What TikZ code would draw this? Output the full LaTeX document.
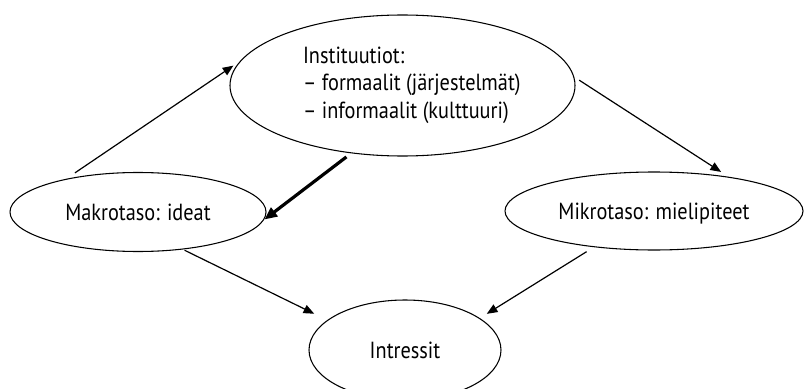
\documentclass[tikz,border=0pt]{standalone}
\usepackage{fontspec}
\setmainfont{PT Sans}[FakeStretch=0.87]
\usetikzlibrary{arrows.meta,shapes.geometric}
\tikzset{
  oval/.style={draw, ellipse, line width=0.8pt, inner sep=0pt, outer sep=0pt,
               font=\fontsize{17.5}{20.6}\selectfont},
  level/.style={oval, text depth=0pt},
  flow/.style={-{Triangle[length=8pt,width=6.5pt]}, line width=0.9pt},
  mainflow/.style={-{Triangle[length=9.5pt,width=8pt]}, line width=2.4pt},
}
\begin{document}
\begin{tikzpicture}[x=0.75pt, y=-0.75pt]
\useasboundingbox (0,0) rectangle (804,389);

% Levels
\node[oval, minimum width=258.75pt, minimum height=105.75pt] (inst) at (402.5,85.5)
  {\begin{tabular}{@{\hspace{14pt}}l@{}}Instituutiot:\\
   – formaalit (järjestelmät)\\
   – informaalit (kulttuuri)\end{tabular}};
\node[level, minimum width=192pt, minimum height=59.25pt] (makro) at (138,212) {Makrotaso: ideat};
\node[level, minimum width=223.5pt, minimum height=58.5pt] (mikro) at (654,211) {Mikrotaso: mielipiteet};
\node[level, minimum width=144pt, minimum height=75pt] (intr) at (405,350) {Intressit};

% Connectors
\draw[flow, shorten <=8.9pt, shorten >=7.5pt] (makro.156) -- (inst.171);
\draw[flow, shorten <=5pt, shorten >=7.5pt] (inst.3) -- (mikro.24);
\draw[mainflow, shorten <=5pt, shorten >=1.5pt] (inst.-127) -- (makro.-4);
\draw[flow, shorten <=2pt, shorten >=11.25pt] (makro.-40) -- (intr.159);
\draw[flow, shorten <=7pt, shorten >=6.5pt] (mikro.-149) -- (intr.23);

\end{tikzpicture}
\end{document}
